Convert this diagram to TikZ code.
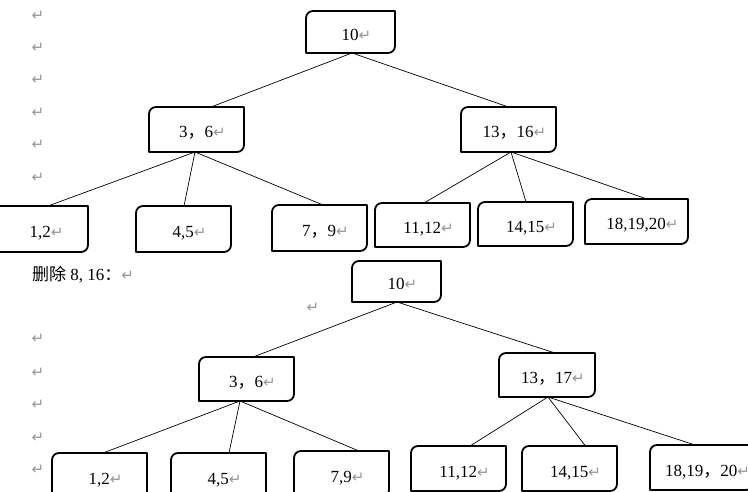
\documentclass[tikz,border=0pt]{standalone}
\usepackage{fontspec}
\setmainfont{Liberation Serif}
\newfontfamily\cjk{Noto Sans CJK SC}
\newfontfamily\symbfont{DejaVu Sans}
\usepackage{tikz}
\definecolor{markgray}{RGB}{150,150,150}
% Absatzmarke und Komma
\newcommand{\absatz}{{\symbfont\fontsize{15}{15}\selectfont\color{markgray}↵}}
\newcommand{\dk}{{\cjk ，}}

\begin{document}
\begin{tikzpicture}[x=1pt, y=-1pt,
			bknoten/.style={minimum width=95pt, minimum height=45pt, inner sep=0pt, outer sep=0pt,
				text height=17pt, text depth=0pt,
				font=\fontsize{17}{17}\selectfont, execute at begin node=\hspace*{12pt}},
			rahmen/.style={line width=1.8pt, line join=round},
			kante/.style={line width=0.7pt},
			marke/.style={inner sep=0pt}]
			%Bildbereich
			\useasboundingbox (0,0) rectangle (748,492);
			\clip (0,0) rectangle (748,492);
			% Absatzmarken links
			\foreach \y [count=\i] in {16,48,80,113,145,178} \node[marke] (m\i) at (38,\y) {\absatz};
			\foreach \y [count=\i] in {339,373,405,438,470} \node[marke] (n\i) at (38,\y) {\absatz};
			\node[marke] (n6) at (313,308) {\absatz};
			% Baum vorher
			\node[bknoten, minimum width=89pt, minimum height=42pt] (r1) at (350.5,32) {10\absatz};
			\node[bknoten] (a1) at (196.5,129.5) {3\dk 6\absatz};
			\node[bknoten] (b1) at (508.5,129.5) {13\dk 16\absatz};
			\node[bknoten, minimum height=46pt] (c1) at (40.5,229) {1,2\absatz};
			\node[bknoten, minimum height=46pt] (d1) at (183.5,229) {4,5\absatz};
			\node[bknoten, minimum height=46pt] (e1) at (319.5,228) {7\dk 9\absatz};
			\node[bknoten, minimum height=44pt] (f1) at (422.5,225) {11,12\absatz};
			\node[bknoten, minimum height=44pt] (g1) at (525.5,224) {14,15\absatz};
			\node[bknoten, minimum width=103pt] (h1) at (636.5,221.5) {18,19,20\absatz};
			% Ueberschrift
			\node[anchor=west, inner sep=0pt, font=\fontsize{17}{17}\selectfont] (titel) at (32,275)
				{{\cjk 删除} 8,\hspace{0.25em}16{\cjk ：}\absatz};
			% Baum nachher
			\node[bknoten, minimum width=89pt, minimum height=41pt] (r2) at (396.5,281.5) {10\absatz};
			\node[bknoten, minimum height=44pt] (a2) at (246.5,379) {3\dk 6\absatz};
			\node[bknoten, minimum width=96pt, minimum height=44pt] (b2) at (547,375) {13\dk 17\absatz};
			\node[bknoten, minimum height=46pt] (c2) at (99.5,476) {1,2\absatz};
			\node[bknoten, minimum height=46pt] (d2) at (218.5,476) {4,5\absatz};
			\node[bknoten, minimum height=46pt] (e2) at (341.5,474) {7,9\absatz};
			\node[bknoten] (f2) at (458.5,468.5) {11,12\absatz};
			\node[bknoten] (g2) at (569.5,468.5) {14,15\absatz};
			\node[bknoten, minimum width=103pt] (h2) at (701.5,467.5) {18,19\dk 20\absatz};
			% Rahmen mit zwei runden Ecken
			\foreach \n in {r1,a1,b1,c1,d1,e1,f1,g1,h1,r2,a2,b2,c2,d2,e2,f2,g2,h2}
				\draw[rahmen] ([xshift=7pt]\n.north west) -- (\n.north east) -- ([yshift=7pt]\n.south east)
					arc[start angle=0, end angle=-90, radius=7pt] -- (\n.south west) -- ([yshift=-7pt]\n.north west)
					arc[start angle=180, end angle=90, radius=7pt] -- cycle;
			% Kanten oben
			\draw[kante] ([xshift=1.5pt]r1.south) -- ([xshift=14.5pt]a1.north);
			\draw[kante] ([xshift=1.5pt]r1.south) -- (b1.north);
			\draw[kante] ([xshift=-1.5pt]a1.south) -- ([xshift=7.5pt]c1.north);
			\draw[kante] ([xshift=-1.5pt]a1.south) -- ([xshift=0.5pt]d1.north);
			\draw[kante] ([xshift=-1.5pt]a1.south) -- ([xshift=3.5pt]e1.north);
			\draw[kante] ([xshift=2.5pt]b1.south) -- ([xshift=1.5pt]f1.north);
			\draw[kante] ([xshift=2.5pt]b1.south) -- ([xshift=0.5pt]g1.north);
			\draw[kante] ([xshift=2.5pt]b1.south) -- ([xshift=10.5pt]h1.north);
			% Kanten unten
			\draw[kante] ([xshift=0.5pt]r2.south) -- ([xshift=6.5pt]a2.north);
			\draw[kante] ([xshift=0.5pt]r2.south) -- ([xshift=8pt]b2.north);
			\draw[kante] ([xshift=-6.5pt]a2.south) -- ([xshift=3.5pt]c2.north);
			\draw[kante] ([xshift=-6.5pt]a2.south) -- ([xshift=10.5pt]d2.north);
			\draw[kante] ([xshift=-6.5pt]a2.south) -- ([xshift=17.5pt]e2.north);
			\draw[kante] ([xshift=1pt]b2.south) -- ([xshift=11.5pt]f2.north);
			\draw[kante] ([xshift=1pt]b2.south) -- ([xshift=16pt]g2.north);
			\draw[kante] ([xshift=1pt]b2.south) -- ([xshift=-6.5pt]h2.north);
		\end{tikzpicture}
\end{document}
